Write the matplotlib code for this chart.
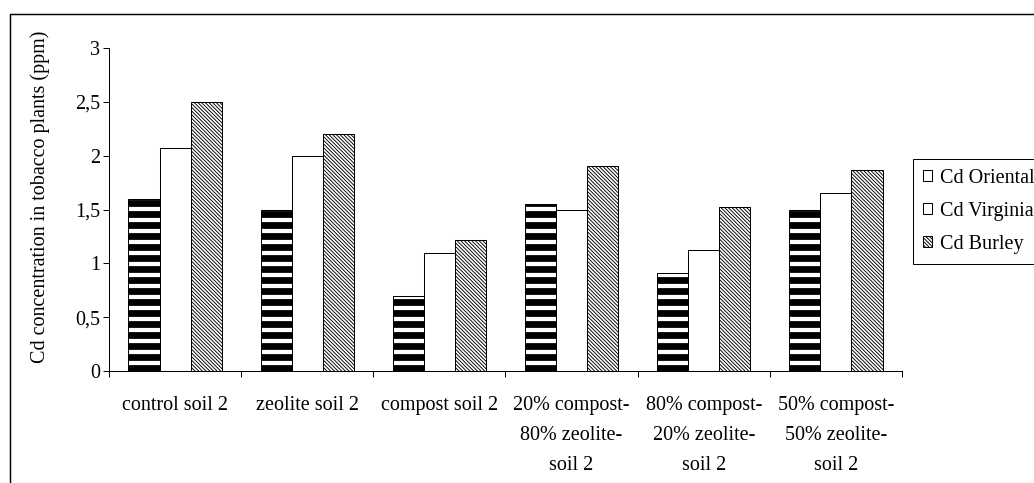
import numpy as np
import matplotlib
matplotlib.use("Agg")
import matplotlib.pyplot as plt
from matplotlib.patches import Rectangle

# Cd uptake by three tobacco types on soil 2 amendments
categories = ["control soil 2", "zeolite soil 2", "compost soil 2",
              "20% compost-\n80% zeolite-\nsoil 2",
              "80% compost-\n20% zeolite-\nsoil 2",
              "50% compost-\n50% zeolite-\nsoil 2"]
oriental = [1.60, 1.50, 0.70, 1.55, 0.91, 1.50]
virginia = [2.07, 2.00, 1.10, 1.50, 1.12, 1.65]
burley = [2.50, 2.20, 1.22, 1.90, 1.52, 1.87]
series_names = ["Cd Oriental", "Cd Virginia", "Cd Burley"]
yticks = [0, 0.5, 1, 1.5, 2, 2.5, 3]
ytick_labels = ["0", "0,5", "1", "1,5", "2", "2,5", "3"]

DPI = 66
W, H = 1034, 483
FS = 22

plt.rcParams['font.family'] = ['Liberation Serif', 'DejaVu Serif']
plt.rcParams['font.size'] = FS

fig = plt.figure(figsize=(W / DPI, H / DPI), dpi=DPI)
ax = fig.add_axes([109 / W, 1 - 371 / H, (902 - 109) / W, (371 - 48) / H])

x = np.arange(len(categories))
bw = 0.235


def hatched_bars(offset, values, hatch, hlw, label):
    with plt.rc_context({'hatch.linewidth': hlw}):
        bars = ax.bar(x + offset, values, bw, color="white", edgecolor="black",
                      linewidth=1.1, hatch=hatch, label=label)
        for b in bars:
            if hasattr(b, "set_hatch_linewidth"):
                b.set_hatch_linewidth(hlw)
    return bars


hatched_bars(-bw, oriental, "-", 7.4, series_names[0])
hatched_bars(0, virginia, None, 1.0, series_names[1])
hatched_bars(bw, burley, "\\" * 6, 1.0, series_names[2])

ax.set_xlim(-0.5, len(categories) - 0.5)
ax.set_ylim(0, 3)
ax.set_yticks(yticks)
ax.set_yticklabels(ytick_labels)

# category boundaries carry the tick marks, labels sit at the centres
ax.set_xticks(np.arange(len(categories) + 1) - 0.5)
ax.set_xticklabels([])
ax.set_xticks(x, minor=True)
ax.set_xticklabels(categories, minor=True, linespacing=1.78, va="top")
ax.tick_params(axis="x", which="major", direction="out", length=7, width=1.1)
ax.tick_params(axis="x", which="minor", length=0, pad=27)
ax.tick_params(axis="y", direction="out", length=6.5, width=1.1, pad=3)

for s in ["top", "right"]:
    ax.spines[s].set_visible(False)
for s in ["left", "bottom"]:
    ax.spines[s].set_linewidth(1.1)

fig.text(40 / W, 1 - 197 / H, "Cd concentration in tobacco plants (ppm)",
         rotation=90, ha="center", va="center", fontsize=FS)

leg = ax.legend(loc="upper left", bbox_to_anchor=(913 / W, 1 - 159 / H),
                bbox_transform=fig.transFigure, borderaxespad=0,
                fancybox=False, edgecolor="black", framealpha=1,
                handlelength=0.45, handleheight=0.45, handletextpad=0.4,
                labelspacing=0.68, borderpad=0.5, fontsize=FS)
leg.get_frame().set_linewidth(1.1)

# outer chart frame
fig.patches.append(Rectangle((10 / W, -0.1), 2, 1 - 14 / H + 0.1,
                             transform=fig.transFigure, fill=False,
                             edgecolor="black", linewidth=1.6))

fig.savefig("out.png", dpi=DPI)
